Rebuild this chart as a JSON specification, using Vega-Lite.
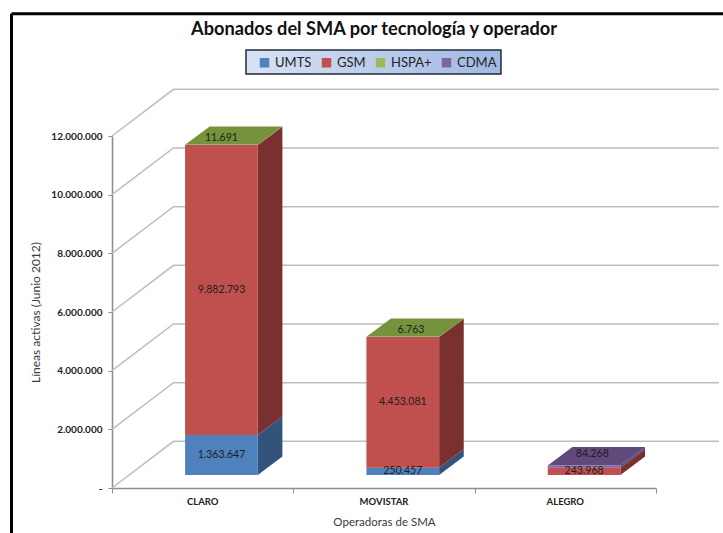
{
"$schema":"https://vega.github.io/schema/vega-lite/v6.json",
"width":544,"height":352,
"autosize":{"type":"none"},
"padding":{"left":112,"top":136,"right":67,"bottom":45},
"background":"white",
"config":{"view":{"stroke":null},"font":"Lato","axis":{"grid":false}},
"title":{"text":"Abonados del SMA por tecnología y operador","anchor":"middle","frame":"group","dx":-10,"offset":-27,"fontSize":18.2,"fontWeight":"bold","font":"Lato","color":"#111111"},
"data":{"values":[
{"operador":"CLARO","tecnologia":"UMTS","abonados":1363647},
{"operador":"CLARO","tecnologia":"GSM","abonados":9882793},
{"operador":"CLARO","tecnologia":"HSPA+","abonados":11691},
{"operador":"MOVISTAR","tecnologia":"UMTS","abonados":250457},
{"operador":"MOVISTAR","tecnologia":"GSM","abonados":4453081},
{"operador":"MOVISTAR","tecnologia":"HSPA+","abonados":6763},
{"operador":"ALEGRO","tecnologia":"GSM","abonados":243968},
{"operador":"ALEGRO","tecnologia":"CDMA","abonados":84268}
]},
"transform":[
{"stack":"abonados","groupby":["operador"],"as":["y0","y1"]},
{"joinaggregate":[{"op":"max","field":"y1","as":"ymax"}],"groupby":["operador"]},
{"calculate":"indexof(['CLARO','MOVISTAR','ALEGRO'],datum.operador)","as":"idx"},
{"calculate":"datum.idx+0.403","as":"xL"},
{"calculate":"datum.xL+0.401","as":"xR"},
{"calculate":"datum.y0+443000","as":"yf0"},
{"calculate":"datum.y1+443000","as":"yf1"},
{"calculate":"replace(format(datum.abonados,','),/,/g,'.')","as":"etiqueta"},
{"calculate":"datum.y1==datum.ymax","as":"cima"}
],
"layer":[
{
"data":{"values":[{"nivel":0},{"nivel":2000000},{"nivel":4000000},{"nivel":6000000},{"nivel":8000000},{"nivel":10000000},{"nivel":12000000}]},
"transform":[
{"calculate":"[0,0.339,3.347]","as":"px"},
{"calculate":"[datum.nivel,datum.nivel+1592000,datum.nivel+1592000]","as":"py"},
{"flatten":["px","py"]}
],
"mark":{"type":"line","color":"#BDBDBD","strokeWidth":1.5},
"encoding":{
"x":{"field":"px","type":"quantitative","scale":{"domain":[0,3],"nice":false},
"axis":{"values":[0,1,2,3],"labels":false,"grid":false,"domainColor":"#8C8C8C","tickColor":"#8C8C8C","domainWidth":1.5,"tickSize":5,"title":"Operadoras de SMA","titleFontSize":11.5,"titleFontWeight":"normal","titleColor":"#3A3A3A","titleFont":"Lato","titlePadding":23}},
"y":{"field":"py","type":"quantitative","stack":null,"scale":{"domain":[0,12000000],"nice":false},
"axis":{"values":[0,2000000,4000000,6000000,8000000,10000000,12000000],"grid":false,"labelExpr":"datum.value==0?'-':replace(format(datum.value,','),/,/g,'.')","labelFont":"Lato","labelFontWeight":"bold","labelFontSize":10,"labelColor":"#222222","labelPadding":6,"domainColor":"#8C8C8C","tickColor":"#8C8C8C","domainWidth":1.5,"tickSize":4,"title":"Líneas activas (Junio 2012)","titleFontSize":12,"titleFontWeight":"normal","titleColor":"#3A3A3A","titleFont":"Lato","titlePadding":8}},
"detail":{"field":"nivel","type":"quantitative"}
}
},
{
"transform":[
{"calculate":"[0,1]","as":"t"},
{"flatten":["t"]},
{"calculate":"datum.xR+datum.t*0.1357","as":"sx"},
{"calculate":"datum.yf0+datum.t*627000","as":"sy0"},
{"calculate":"datum.yf1+datum.t*627000","as":"sy1"}
],
"mark":{"type":"area","opacity":1},
"encoding":{
"x":{"field":"sx","type":"quantitative"},
"y":{"field":"sy1","type":"quantitative","stack":null},
"y2":{"field":"sy0"},
"detail":{"field":"operador"},
"color":{"field":"tecnologia","type":"nominal","legend":null,"scale":{"domain":["UMTS","GSM","HSPA+","CDMA"],"range":["#32537B","#7A302E","#64782F","#5A4575"]}}
}
},
{
"transform":[
{"filter":"datum.cima"},
{"calculate":"[datum.xL,datum.xL+0.1357,datum.xR,datum.xR+0.1357]","as":"tx"},
{"calculate":"[datum.yf1,datum.yf1+627000,datum.yf1+627000,datum.yf1+627000]","as":"tsup"},
{"calculate":"[datum.yf1,datum.yf1,datum.yf1,datum.yf1+627000]","as":"tinf"},
{"flatten":["tx","tsup","tinf"]}
],
"mark":{"type":"area","opacity":1},
"encoding":{
"x":{"field":"tx","type":"quantitative"},
"y":{"field":"tsup","type":"quantitative","stack":null},
"y2":{"field":"tinf"},
"detail":{"field":"operador"},
"color":{"field":"tecnologia","type":"nominal","legend":null,"scale":{"domain":["UMTS","GSM","HSPA+","CDMA"],"range":["#3E6A9E","#A04340","#76923C","#604A7B"]}}
}
},
{
"mark":{"type":"rect"},
"encoding":{
"x":{"field":"xL","type":"quantitative"},
"x2":{"field":"xR"},
"y":{"field":"yf1","type":"quantitative"},
"y2":{"field":"yf0"},
"color":{"field":"tecnologia","type":"nominal","title":null,
"scale":{"domain":["UMTS","GSM","HSPA+","CDMA"],"range":["#4F81BD","#C0504D","#9BBB59","#8064A2"]},
"legend":{"orient":"none","direction":"horizontal","legendX":141,"legendY":-85,"columns":4,"symbolType":"square","symbolSize":90,"symbolStrokeWidth":0,"labelFont":"Lato","labelFontSize":13,"labelColor":"#222222","columnPadding":8,"padding":5}}
}
},
{
"transform":[
{"calculate":"(datum.xL+datum.xR)/2+(datum.cima&&datum.operador!='CLARO'?0.045:0)","as":"lx"},
{"calculate":"datum.cima?datum.yf1+(datum.tecnologia=='CDMA'?375000:222000):(datum.yf0+datum.yf1)/2","as":"ly"}
],
"mark":{"type":"text","font":"Lato","fontSize":10.5,"color":"#1E1E1E","baseline":"middle","align":"center"},
"encoding":{
"x":{"field":"lx","type":"quantitative"},
"y":{"field":"ly","type":"quantitative"},
"text":{"field":"etiqueta"}
}
},
{
"data":{"values":[{"operador":"CLARO","pos":0.5},{"operador":"MOVISTAR","pos":1.5},{"operador":"ALEGRO","pos":2.5}]},
"mark":{"type":"text","font":"Lato","fontSize":9.5,"fontWeight":"bold","color":"#222222","baseline":"middle","align":"center","dy":14},
"encoding":{
"x":{"field":"pos","type":"quantitative"},
"y":{"datum":0,"type":"quantitative"},
"text":{"field":"operador"}
}
},
{
"data":{"values":[{"a":1}]},
"mark":{"type":"rect","stroke":"#1F2A3A","strokeWidth":1.5,"color":{"gradient":"linear","x1":0,"y1":0,"x2":1,"y2":0,"stops":[{"offset":0,"color":"#D8E2F3"},{"offset":1,"color":"#A0B8E3"}]}},
"encoding":{
"x":{"datum":0.739,"type":"quantitative"},
"x2":{"datum":2.145},
"y":{"datum":14930000,"type":"quantitative"},
"y2":{"datum":14110000}
}
},
{
"mark":{"type":"rule","color":"#000000","strokeWidth":3},
"data":{"values":[{"a":1}]},
"encoding":{
"x":{"datum":-0.5543,"type":"quantitative"},
"y":{"datum":16170000,"type":"quantitative"},
"y2":{"datum":-1534000}
}
},
{
"mark":{"type":"rule","color":"#000000","strokeWidth":3},
"data":{"values":[{"a":1}]},
"encoding":{
"x":{"datum":-0.5543,"type":"quantitative"},
"x2":{"datum":3.37},
"y":{"datum":16170000,"type":"quantitative"}
}
}
],
"resolve":{"scale":{"color":"independent"}}
}
